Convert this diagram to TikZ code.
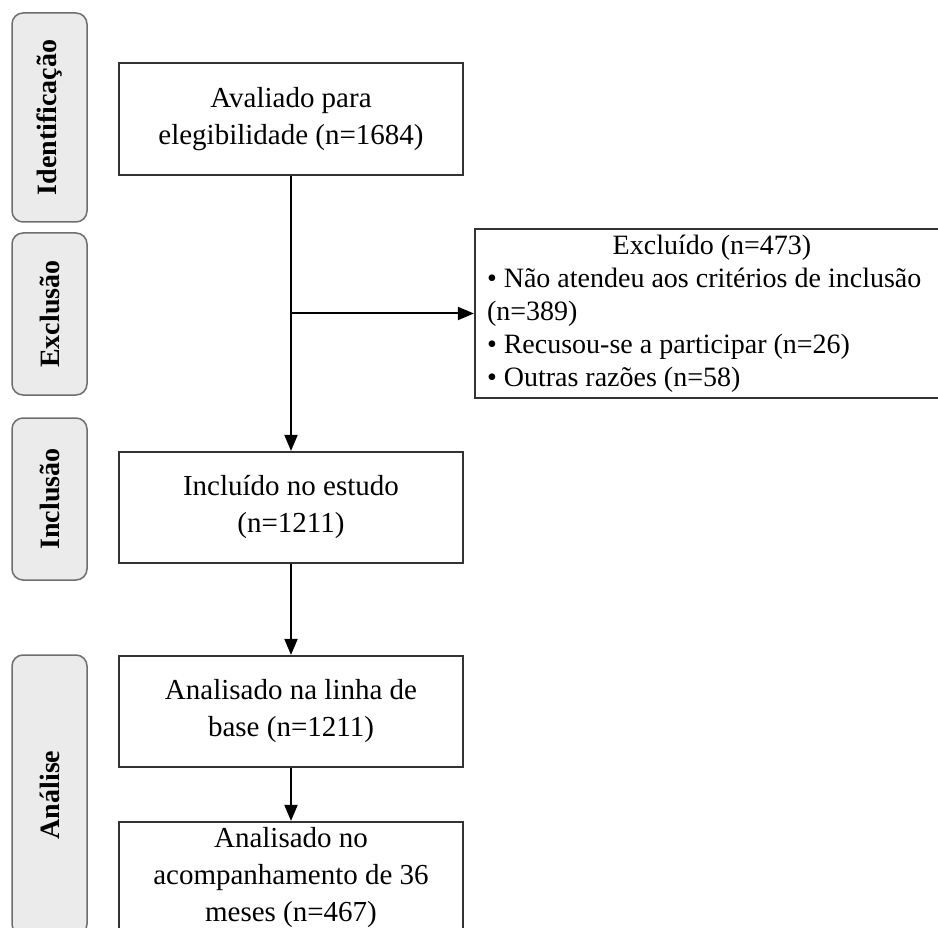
\documentclass[tikz,border=0pt]{standalone}
\usepackage{fontspec}
\setmainfont{Liberation Serif}
\usetikzlibrary{arrows.meta}
\definecolor{etapafill}{HTML}{EBEBEB}
\definecolor{etapaborda}{HTML}{6E6E6E}
\definecolor{caixaborda}{HTML}{333333}
\tikzset{
  etapa/.style={draw=etapaborda, fill=etapafill, line width=1.5pt, rounded corners=11pt,
    rotate=90, minimum height=75pt, inner sep=0pt,
    font=\fontsize{28}{34}\selectfont\bfseries},
  caixa/.style={draw=caixaborda, line width=2.2pt, minimum width=344pt, align=center,
    inner sep=0pt, font=\fontsize{29}{37}\selectfont},
  seta/.style={line width=2pt, -{Triangle[length=16pt,width=13pt]}}
}
\begin{document}
\begin{tikzpicture}[x=1pt,y=-1pt]
                \useasboundingbox (0,0) rectangle (938,928);
                \clip (0,0) rectangle (938,928);
                % etapas
                \node[etapa, minimum width=209pt] (ident) at (49.5,117.5) {Identificação};
                \node[etapa, minimum width=162pt] (exclu) at (49.5,314) {Exclusão};
                \node[etapa, minimum width=162pt] (inclu) at (49.5,499) {Inclusão};
                \node[etapa, minimum width=280pt] (anali) at (49.5,795) {Análise};
                % caixas
                \node[caixa, minimum height=112pt] (avaliado) at (291,119) {Avaliado para\\ elegibilidade (n=1684)};
                \node[caixa, minimum height=111pt] (incluido) at (291,507.5) {Incluído no estudo\\ (n=1211)};
                \node[caixa, minimum height=111pt] (basal) at (291,711.5) {Analisado na linha de\\ base (n=1211)};
                \node[caixa, minimum height=112pt] (seguimento) at (291,878) {Analisado no\\ acompanhamento de 36\\ meses (n=467)};
                \node[caixa, minimum width=474pt, minimum height=169pt, text width=450pt, align=flush left,
                      font=\fontsize{28}{33}\selectfont] (excluido) at (712,313.5)
                     {\makebox[\hsize]{Excluído (n=473)}\\
                      • Não atendeu aos critérios de inclusão\\
                      (n=389)\\
                      • Recusou-se a participar (n=26)\\
                      • Outras razões (n=58)};
                % setas
                \coordinate (desvio) at (291,313.5);
                \draw[seta] (avaliado) -- (incluido);
                \draw[seta] (desvio) -- (excluido.west);
                \draw[seta] (incluido) -- (basal);
                \draw[seta] (basal) -- (seguimento);
            \end{tikzpicture}
\end{document}
